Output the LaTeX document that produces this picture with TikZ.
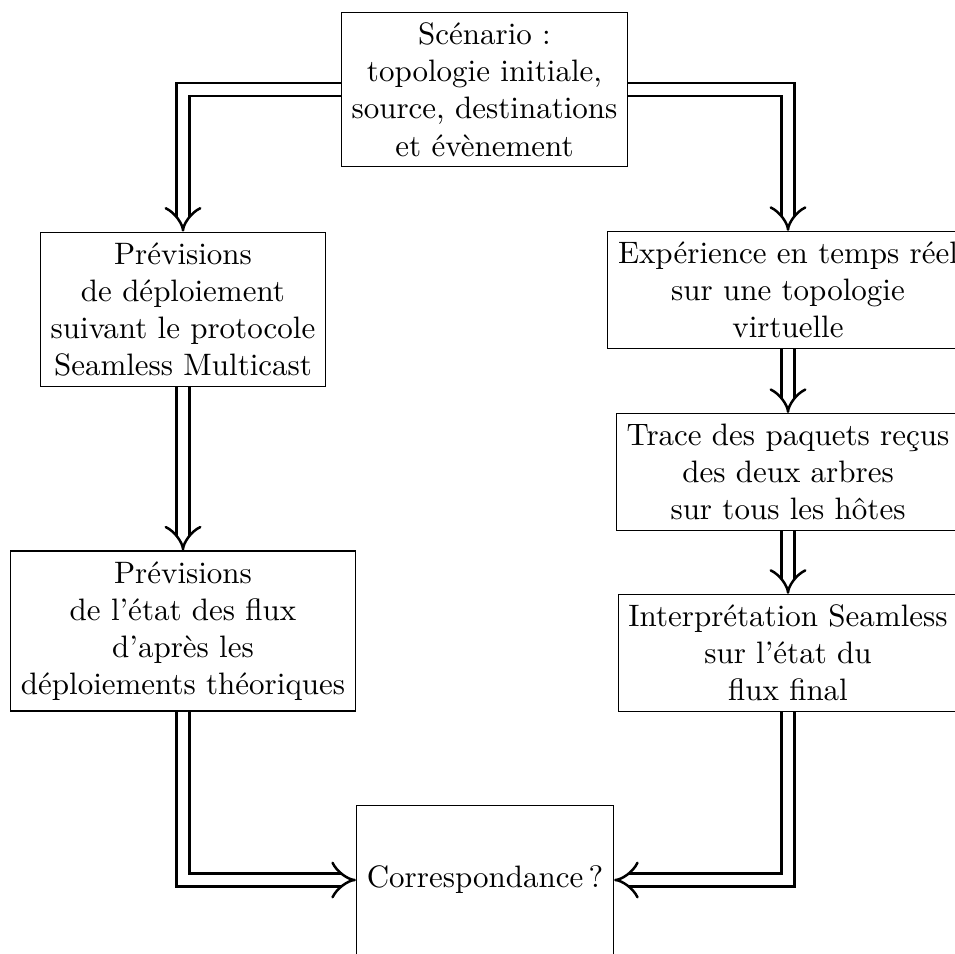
\documentclass[tikz,border=0pt]{standalone}
\usetikzlibrary{arrows.meta}
\begin{document}
\begin{tikzpicture}[x=0.3226pt,y=-0.3226pt,
  box/.style={draw, line width=0.4pt, align=center, inner sep=3.33pt, font=\normalsize},
  dbl/.style={double, double distance=3.4pt, line width=0.8pt, -{Implies[scale=1.3]}}]
\fill[white] (0,0) rectangle (955,953);
\clip (0,0) rectangle (955,953);
\node[box] (scen) at (484.5,89.5) {Scénario~:\\topologie initiale,\\source, destinations\\et évènement};
\node[box] (prev1) at (183,309.5) {Prévisions\\de déploiement\\suivant le protocole\\Seamless Multicast};
\node[box] (prev2) at (183,631) {Prévisions\\de l'état des flux\\d'après les\\déploiements théoriques};
\node[box] (exp) at (788,290) {Expérience en temps réel\\sur une topologie\\virtuelle};
\node[box] (trace) at (788,472) {Trace des paquets reçus\\des deux arbres\\sur tous les hôtes};
\node[box] (interp) at (788,653) {Interprétation Seamless\\sur l'état du\\flux final};
\node[box, minimum height=48pt] (corr) at (485,880) {Correspondance\,?};
\draw[dbl] (scen.west) -| (prev1.north);
\draw[dbl] (scen.east) -| (exp.north);
\draw[dbl] (prev1) -- (prev2);
\draw[dbl] (exp) -- (trace);
\draw[dbl] (trace) -- (interp);
\draw[dbl] (prev2.south) |- (corr.west);
\draw[dbl] (interp.south) |- (corr.east);
\end{tikzpicture}
\end{document}
